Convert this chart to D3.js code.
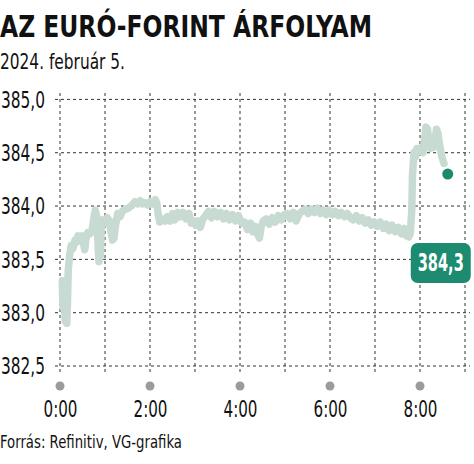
<!DOCTYPE html>
<html>
<head>
<meta charset="utf-8">
<script src="https://cdn.jsdelivr.net/npm/d3@7"></script>
<style>
  body { margin: 0; background: #fff; }
  text { font-family: "Liberation Sans Narrow", "DejaVu Sans Condensed", "Roboto", sans-serif; }
</style>
</head>
<body>
<div id="chart"></div>
<script>
// minutes after midnight
const minutes = [3, 4, 5, 6, 7, 8, 9, 10, 11, 13, 15, 17, 20, 22, 24, 27, 29, 31, 33, 35, 37, 40, 43, 45, 47, 49, 51, 52, 54, 55, 57, 60, 63, 66, 68, 70, 72, 74, 77, 80, 83, 87, 91, 95, 100, 104, 107, 110, 113, 117, 120, 124, 127, 129, 131, 133, 136, 140,
  143, 147, 150, 153, 157, 160, 164, 168, 172, 175, 178, 181, 184, 187, 190, 194, 198, 202, 206, 210, 214, 218, 222, 226, 230, 234, 238, 242, 246, 250, 254, 257, 260, 263, 266, 268, 271, 275, 279, 283, 287, 291, 295, 299,
  303, 307, 311, 315, 319, 323, 327, 331, 335, 339, 343, 347, 351, 355, 359, 363, 367, 371, 375, 379, 383, 387, 391, 395, 399, 403, 407, 411, 415, 419, 423, 427, 431, 435, 439, 443, 447, 451, 455, 459, 462, 465, 467,
  469, 470, 472, 474, 476, 479, 482, 484, 486, 488, 490, 492, 494, 496, 498, 500, 502, 504, 506, 508, 510, 512];
const rates = [383.30, 383.05, 383.28, 383.10, 382.92, 382.95, 382.90, 383.10, 383.40, 383.55, 383.63, 383.60, 383.68, 383.66, 383.72, 383.70, 383.72, 383.66, 383.59, 383.72, 383.75, 383.74, 383.78, 383.88, 383.96, 383.90, 383.60, 383.48, 383.55, 383.80, 383.87, 383.84, 383.89, 383.86, 383.76, 383.68, 383.70, 383.82, 383.93, 383.90, 383.95, 383.97, 383.98, 384.00, 384.04, 384.02, 384.05, 384.02, 384.03, 384.01, 384.04, 384.02, 384.06, 384.03, 383.92, 383.85, 383.88, 383.86,
  383.90, 383.86, 383.93, 383.87, 383.94, 383.90, 383.94, 383.88, 383.93, 383.84, 383.86, 383.82, 383.86, 383.80, 383.87, 383.91, 383.95, 383.89, 383.95, 383.90, 383.94, 383.88, 383.93, 383.87, 383.92, 383.86, 383.91, 383.84, 383.85, 383.78, 383.84, 383.76, 383.81, 383.74, 383.70, 383.80, 383.86, 383.88, 383.83, 383.89, 383.85, 383.91, 383.87, 383.92,
  383.93, 383.88, 383.94, 383.86, 383.93, 383.95, 383.97, 383.93, 383.97, 383.94, 383.98, 383.93, 383.96, 383.92, 383.96, 383.92, 383.95, 383.91, 383.94, 383.90, 383.93, 383.89, 383.87, 383.91, 383.86, 383.89, 383.84, 383.87, 383.82, 383.85, 383.81, 383.85, 383.79, 383.83, 383.77, 383.82, 383.76, 383.80, 383.74, 383.79, 383.72, 383.71, 383.74,
  383.95, 384.30, 384.50, 384.46, 384.54, 384.52, 384.55, 384.50, 384.62, 384.74, 384.72, 384.60, 384.54, 384.58, 384.55, 384.62, 384.72, 384.68, 384.58, 384.50, 384.44, 384.40];

const lastMinute = 517;
const lastRate = 384.3;

const yTicks = [382.5, 383, 383.5, 384, 384.5, 385];
const yTickLabels = ["382,5", "383,0", "383,5", "384,0", "384,5", "385,0"];
const gridHours = [0, 60, 120, 180, 240, 300, 360, 420, 480, 540];
const xTicks = [0, 120, 240, 360, 480];
const xTickLabels = ["0:00", "2:00", "4:00", "6:00", "8:00"];

const W = 474, H = 464;

const svg = d3.select("#chart").append("svg")
  .attr("width", W)
  .attr("height", H);

const x = d3.scaleLinear().domain([0, 540]).range([60, 465]);
const y = d3.scaleLinear().domain([382.5, 385]).range([366, 99.4]);

// title
svg.append("text")
  .attr("x", 0).attr("y", 37)
  .attr("font-size", 31).attr("font-weight", "bold")
  .attr("fill", "#111")
  .attr("textLength", 372).attr("lengthAdjust", "spacingAndGlyphs")
  .text("AZ EURÓ-FORINT ÁRFOLYAM");

svg.append("text")
  .attr("x", 0).attr("y", 69)
  .attr("font-size", 22)
  .attr("fill", "#111")
  .attr("textLength", 125).attr("lengthAdjust", "spacingAndGlyphs")
  .text("2024. február 5.");

// grid
const grid = svg.append("g")
  .attr("stroke", "#333")
  .attr("stroke-width", 1)
  .attr("stroke-dasharray", "3,3");

grid.selectAll("line.h")
  .data(yTicks)
  .enter()
  .append("line")
  .attr("class", "h")
  .attr("x1", 55).attr("x2", 470)
  .attr("y1", d => y(d)).attr("y2", d => y(d));

grid.selectAll("line.v")
  .data(gridHours)
  .enter()
  .append("line")
  .attr("class", "v")
  .attr("x1", d => x(d)).attr("x2", d => x(d))
  .attr("y1", 93).attr("y2", 373);

// y labels
const yAxis = svg.append("g")
  .attr("transform", "translate(45,0)")
  .call(d3.axisLeft(y).tickValues(yTicks).tickSize(0).tickPadding(0)
    .tickFormat((d, i) => yTickLabels[i]));
yAxis.select(".domain").remove();
yAxis.selectAll("text")
  .attr("font-size", 23)
  .attr("fill", "#111")
  .attr("dy", "0.34em")
  .attr("textLength", 44).attr("lengthAdjust", "spacingAndGlyphs");

// x axis dots + labels
svg.selectAll("circle.tick")
  .data(xTicks)
  .enter()
  .append("circle")
  .attr("class", "tick")
  .attr("cx", d => x(d))
  .attr("cy", 386)
  .attr("r", 4.5)
  .attr("fill", "#9b9b9b");

const xAxis = svg.append("g")
  .attr("transform", "translate(0,399)")
  .call(d3.axisBottom(x).tickValues(xTicks).tickSize(0).tickPadding(0)
    .tickFormat((d, i) => xTickLabels[i]));
xAxis.select(".domain").remove();
xAxis.selectAll("text")
  .attr("font-size", 23)
  .attr("fill", "#111")
  .attr("dy", "0.78em")
  .attr("textLength", 34).attr("lengthAdjust", "spacingAndGlyphs");

// line
const data = minutes.map((m, i) => ({ m: m, v: rates[i] }));
const line = d3.line()
  .x(d => x(d.m))
  .y(d => y(d.v));

svg.append("path")
  .datum(data)
  .attr("fill", "none")
  .attr("stroke", "#c8dbd2")
  .attr("stroke-width", 7.5)
  .attr("stroke-linejoin", "round")
  .attr("stroke-linecap", "round")
  .attr("d", line);

svg.append("circle")
  .attr("cx", x(lastMinute))
  .attr("cy", y(lastRate))
  .attr("r", 5.5)
  .attr("fill", "#1a8a6d");

// value label
const bx = x(lastMinute) - 37, by = y(lastRate) + 69;
svg.append("rect")
  .attr("x", bx).attr("y", by)
  .attr("width", 60).attr("height", 40)
  .attr("rx", 7)
  .attr("fill", "#1d8b6f");
svg.append("text")
  .attr("x", bx + 30).attr("y", by + 28)
  .attr("text-anchor", "middle")
  .attr("font-size", 24).attr("font-weight", "bold")
  .attr("fill", "#fff")
  .attr("textLength", 46).attr("lengthAdjust", "spacingAndGlyphs")
  .text("384,3");

// source
svg.append("text")
  .attr("x", 0).attr("y", 448)
  .attr("font-size", 17)
  .attr("fill", "#111")
  .attr("textLength", 182).attr("lengthAdjust", "spacingAndGlyphs")
  .text("Forrás: Refinitiv, VG-grafika");
</script>
</body>
</html>
